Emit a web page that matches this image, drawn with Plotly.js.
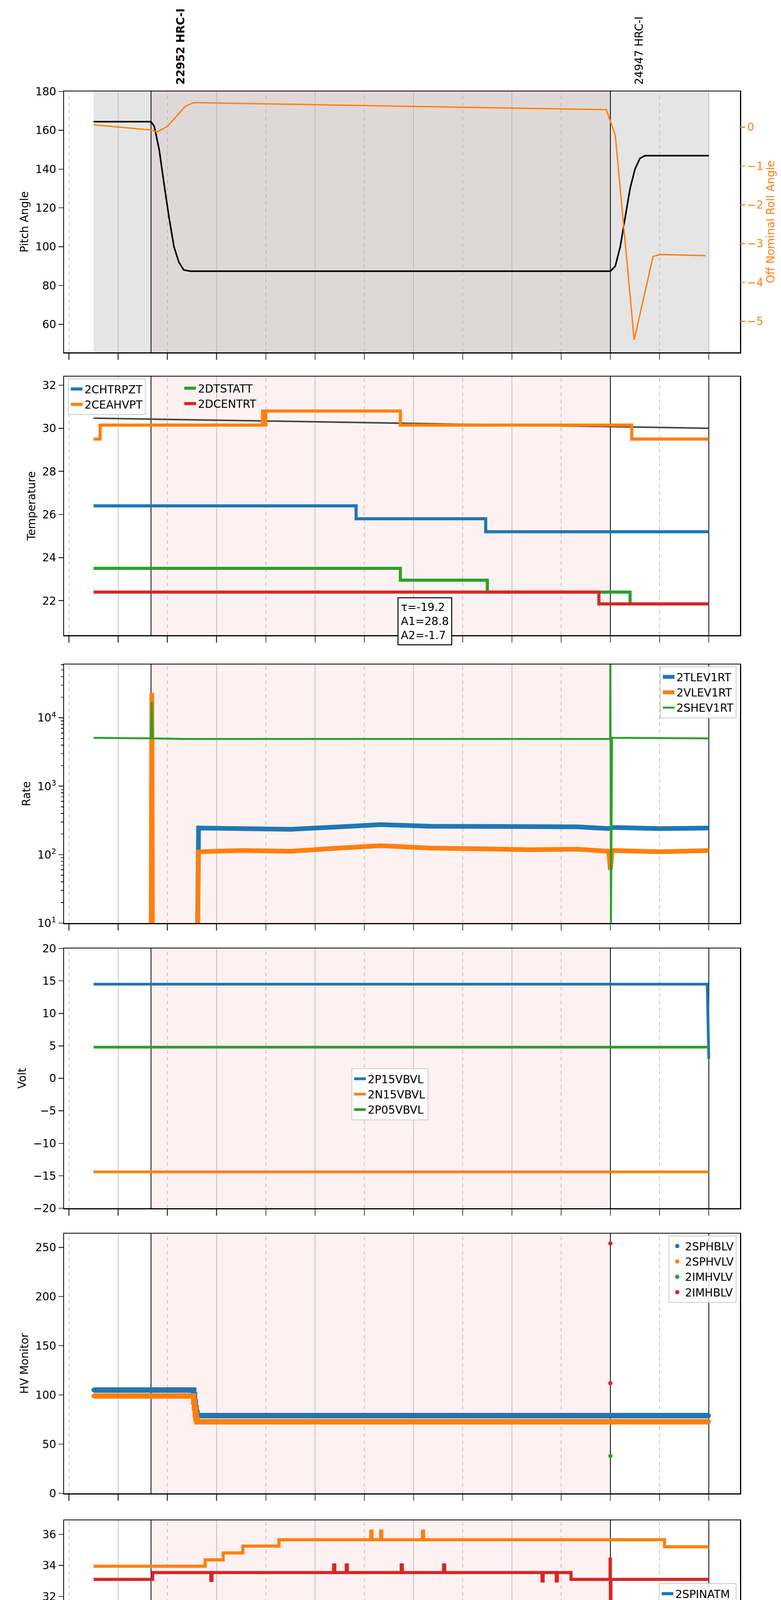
<!DOCTYPE html>
<html>
<head>
<meta charset="utf-8">
<script src="https://cdn.plot.ly/plotly-3.0.1.min.js"></script>
<style>body{margin:0;background:#fff}</style>
</head>
<body>
<div id="chart" style="width:2000px;height:5400px"></div>
<script>
var DAY = '2021-02-03 ';
function T(arr){ return arr.map(function(s){ return DAY + (s.length == 5 ? s + ':00' : s); }); }

/* panel 1: pitch / roll */
var pitchT = ['00:45','01:20','01:22','01:25','01:28','01:31','01:34','01:37','01:40','01:44','06:00','06:03','06:06','06:09','06:12','06:15','06:18','06:21','07:00'];
var pitchV = [164.4,164.4,162,150,132,115,100,92,88,87.4,87.4,90,100,115,130,140,145.5,146.9,146.9];
var rollT = ['00:45','01:00','01:19','01:24','01:30','01:41','01:46','05:57:30','06:03','06:14:30','06:26','06:30:30','06:58'];
var rollV = [0.06,0,-0.07,-0.12,0.02,0.54,0.63,0.45,-0.21,-5.48,-3.33,-3.28,-3.31];

/* panel 2: temperature */
var fitT = ['00:45','07:00'], fitV = [30.47,30.0];
var chtrpztT = ['00:45','03:25','04:44','07:00'], chtrpztV = [26.4,25.8,25.2,25.2];
var ceahvptT = ['00:45','00:49','02:28','02:29','02:30','03:52','06:13','07:00'];
var ceahvptV = [29.5,30.15,30.8,30.15,30.8,30.15,29.5,29.5];
var dtstattT = ['00:45','03:52','04:45','06:12','07:00'], dtstattV = [23.5,22.95,22.4,21.85,21.85];
var dcentrtT = ['00:45','05:53','07:00'], dcentrtV = [22.4,21.85,21.85];
var fitText = '\u03c4=-19.2<br>A1=28.8<br>A2=-1.7';

/* panel 3: rates */
var shevT = ['00:45','01:20','01:20:30','01:21','01:40','03:00','04:30','05:59:50','06:00','06:00:20','06:01','07:00'];
var shevV = [5100,5000,17000,5000,4900,4900,4900,4900,90000,8,5100,5000];
var vlevT = ['01:20','01:20:30','01:21','01:48','01:49','02:15','02:45','03:15','03:40','04:10','04:40','05:10','05:40','05:59','06:00','06:01','06:30','07:00'];
var vlevV = [1,23000,1,1,110,115,112,125,135,125,120,118,120,112,60,115,110,115];
var tlevT = ['01:48','01:49','02:15','02:45','03:15','03:40','04:10','04:40','05:10','05:40','05:59','06:01','06:30','07:00'];
var tlevV = [1,245,240,235,255,275,260,255,250,255,240,250,240,245];

/* panel 4: volts */
var p15T = ['00:45','06:59','07:00'], p15V = [14.5,14.5,3];
var n15T = ['00:45','07:00'], n15V = [-14.4,-14.4];
var p05T = ['00:45','07:00'], p05V = [4.8,4.8];

/* panel 5: HV monitor */
var sphblvT = ['00:45','01:46','01:46:30','01:47','01:47:30','01:48','07:00'], sphblvV = [105,100,93,87,82,79,79];
var sphvlvT = ['00:45','01:46','01:46:30','01:47','01:47:30','01:48','07:00'], sphvlvV = [99,93,87,80,75,72.7,72.7];
var imhvlvT = ['06:00'], imhvlvV = [38];
var imhblvT = ['06:00','06:00'], imhblvV = [254,112];

/* panel 6: detector temp */
var spinatmT = ['00:45','06:52','07:00'], spinatmV = [21.72,21.02,21.02];
var sphvatmT = ['00:45','01:53','02:04','02:16','02:38','03:34','03:34:40','03:40','03:40:40','04:05:30','04:06:10','06:33','07:00'];
var sphvatmV = [33.95,34.36,34.8,35.24,35.65,36.2,35.65,36.2,35.65,36.2,35.65,35.2,35.2];
var iminatmT = ['00:45','04:01','06:14','07:00'], iminatmV = [23.16,22.42,21.72,21.72];
var imhvatmT = ['00:45','01:21','01:56:30','01:57:10','03:11:20','03:12','03:19','03:19:40','03:52:30','03:53:10','04:18:20','04:19','05:18:20','05:19','05:27','05:27:40','05:36','05:59:50','06:00','06:00:20','07:00'];
var imhvatmV = [33.1,33.54,33.03,33.54,34.03,33.54,34.03,33.54,34.03,33.54,34.03,33.54,33.0,33.54,33.0,33.54,33.1,34.4,15,33.1,33.1];

/* panel 7: FEA temp */
var fhtrmztT = ['00:45','00:53:30','00:54','01:46','02:32:30','03:15:30','04:00','04:46','05:35:30','07:00'];
var fhtrmztV = [27.0,26.4,27.0,26.4,25.8,25.2,24.63,24.05,23.47,23.47];
var fradpytT = ['00:44','01:39','01:53','02:10:30','02:37','03:11','03:50','04:30','05:14','06:00','06:11','06:31','07:00'];
var fradpytV = [22.36,21.81,21.28,20.73,20.21,19.68,19.16,18.64,18.14,17.65,18.14,18.64,18.64];
var fepratmT = ['00:45','02:46:30','03:56','05:07','06:35:30','06:53:30','06:54','07:00'];
var fepratmV = [27.76,26.95,26.16,25.39,24.63,25.45,24.63,24.63];
var fe00atmT = ['00:45','02:02','02:02:30','02:04','02:11','02:11:30','02:24','02:24:30','02:25','02:25:30','02:37','02:54','02:54:30','03:09','03:17','03:17:30','03:27','03:27:30','03:40','03:44','03:44:30','04:08','04:08:30','04:13','04:46','05:06:40','05:07:20','05:20:30','05:21','05:22','05:33:30','05:34','05:36','05:36:30','05:56','05:56:40','05:57:20','05:59:50','06:00','06:00:20','06:30','06:30:30','07:00'];
var fe00atmV = [25.63,26.36,25.63,25.28,24.56,25.28,26.36,25.28,24.23,25.28,24.94,23.9,24.94,24.6,23.9,24.6,23.56,24.6,24.28,23.56,24.28,21.37,24.28,23.96,23.62,21.68,23.62,24.65,23.62,23.29,22.29,23.29,24.3,23.29,22.98,22.29,22.98,31,15,22.98,23.2,22.98,22.98];

/* axis ticks */
var tickTimes = ['00:30','01:00','01:30','02:00','02:30','03:00','03:30','04:00','04:30','05:00','05:30','06:00','06:30','07:00'];
var tickText = tickTimes.map(function(s){
  return s.slice(3) == '30' ? '<span style="font-size:18px">30</span>' : '<br>' + s.slice(0,2) + 'h';
});
var obsT = ['01:20','06:00'];
var obsLabelT = ['01:38','06:17:30'], obsLabels = ['<b>22952 HRC-I</b>','24947 HRC-I'];

var C = ['#1f77b4','#ff7f0e','#2ca02c','#d62728'];
var panelPix = [[234,902],[964,1626],[1701,2363],[2428,3093],[3158,3823],[3892,4553],[4622,5287]];
var H = 5400, MT = 234, MB = 113, PH = H - MT - MB;
function dom(p){ return [1 - (p[1]-MT)/PH, 1 - (p[0]-MT)/PH]; }

var data = [];
function step(i, t, v, name, color, w, leg, shape){
  data.push({x: T(t), y: v, name: name, type: 'scatter', mode: 'lines', line: {color: color, width: w, shape: shape || 'hv'},
    xaxis: i == 1 ? 'x' : 'x' + i, yaxis: i == 1 ? 'y' : 'y' + i, legend: leg, showlegend: !!leg});
}
data.push({x: T(pitchT), y: pitchV, mode: 'lines', line: {color: 'black', width: 4}, showlegend: false, xaxis: 'x', yaxis: 'y'});
data.push({x: T(rollT), y: rollV, mode: 'lines', line: {color: C[1], width: 3.5}, showlegend: false, xaxis: 'x', yaxis: 'y8'});

step(2, fitT, fitV, 'fit', '#444', 4, null, 'linear');
step(2, chtrpztT, chtrpztV, '2CHTRPZT', C[0], 8, 'legend2');
step(2, ceahvptT, ceahvptV, '2CEAHVPT', C[1], 8, 'legend2');
step(2, dtstattT, dtstattV, '2DTSTATT', C[2], 8, 'legend8');
step(2, dcentrtT, dcentrtV, '2DCENTRT', C[3], 8, 'legend8');

step(3, tlevT, tlevV, '2TLEV1RT', C[0], 12, 'legend3', 'linear');
step(3, vlevT, vlevV, '2VLEV1RT', C[1], 12, 'legend3', 'linear');
step(3, shevT, shevV, '2SHEV1RT', C[2], 5, 'legend3', 'linear');

step(4, p15T, p15V, '2P15VBVL', C[0], 7, 'legend4', 'linear');
step(4, n15T, n15V, '2N15VBVL', C[1], 7, 'legend4', 'linear');
step(4, p05T, p05V, '2P05VBVL', C[2], 7, 'legend4', 'linear');

[[sphblvT,sphblvV,'2SPHBLV',C[0],true],[sphvlvT,sphvlvV,'2SPHVLV',C[1],true],[imhvlvT,imhvlvV,'2IMHVLV',C[2],false],[imhblvT,imhblvV,'2IMHBLV',C[3],false]].forEach(function(s){
  if (s[4]) data.push({x: T(s[0]), y: s[1], mode: 'lines', line: {color: s[3], width: 14, shape: 'hv'}, showlegend: false, xaxis: 'x5', yaxis: 'y5'});
  data.push({x: T(s[0]), y: s[1], name: s[2], mode: 'markers', marker: {color: s[3], size: 11}, xaxis: 'x5', yaxis: 'y5', legend: 'legend5'});
});

step(6, spinatmT, spinatmV, '2SPINATM', C[0], 8, 'legend6');
step(6, sphvatmT, sphvatmV, '2SPHVATM', C[1], 8, 'legend6');
step(6, iminatmT, iminatmV, '2IMINATM', C[2], 8, 'legend6');
step(6, imhvatmT, imhvatmV, '2IMHVATM', C[3], 8, 'legend6');

step(7, fhtrmztT, fhtrmztV, '2FHTRMZT', C[0], 8, 'legend7');
step(7, fradpytT, fradpytV, '2FRADPYT', C[1], 8, 'legend7');
step(7, fepratmT, fepratmV, '2FEPRATM', C[2], 8, 'legend7');
step(7, fe00atmT, fe00atmV, '2FE00ATM', C[3], 6, 'legend7');

var FS = 28;
var F = {family: 'DejaVu Sans', size: FS, color: 'black'};
var layout = {width: 2000, height: H, margin: {l: 164, r: 105, t: MT, b: MB},
  paper_bgcolor: 'white', plot_bgcolor: 'white', font: F, shapes: [], annotations: []};

var yTitles = ['Pitch Angle','Temperature','Rate','Volt','HV Monitor','Detector Temp','FEA Temp'];
var yRanges = [[45.6,180],[20.4,32.4],[1,4.78],[-20,20],[0,264],[20.3,36.9],[17.2,29.4]];
var yDticks = [20,2,1,5,50,2,2];
for (var i = 1; i <= 7; i++) {
  var xa = i == 1 ? 'xaxis' : 'xaxis' + i, ya = i == 1 ? 'yaxis' : 'yaxis' + i;
  var xr = i == 1 ? 'x' : 'x' + i, yr = i == 1 ? 'y' : 'y' + i;
  layout[xa] = {type: 'date', range: [DAY + '00:27', DAY + '07:19'], tickvals: T(tickTimes), ticktext: tickText,
    showticklabels: i == 7, ticks: 'outside', ticklen: 16, tickwidth: 2.5, showgrid: false, zeroline: false,
    showline: true, mirror: true, linecolor: 'black', linewidth: 2.5, anchor: yr, tickfont: {size: 30}};
  if (i > 1) layout[xa].matches = 'x';
  layout[ya] = {domain: dom(panelPix[i-1]), anchor: xr, range: yRanges[i-1], dtick: yDticks[i-1],
    title: {text: yTitles[i-1], font: {size: FS}, standoff: 10}, ticks: 'outside', ticklen: 12, tickwidth: 2.5,
    showgrid: false, zeroline: false, showline: true, mirror: true, linecolor: 'black', linewidth: 2.5, tickfont: {size: FS}};
  if (i == 3) { layout[ya].type = 'log'; layout[ya].tickvals = [10,100,1000,10000];
    layout[ya].ticktext = ['10<sup>1</sup>','10<sup>2</sup>','10<sup>3</sup>','10<sup>4</sup>'];
    layout[ya].minor = {ticks: 'outside', ticklen: 6, dtick: 'D1'}; }
  if (i == 1) layout.shapes.push({type: 'rect', xref: xr, yref: yr + ' domain', x0: DAY + '00:45:00', x1: DAY + '07:00:00', y0: 0, y1: 1, fillcolor: '#e5e5e5', line: {width: 0}, layer: 'below'});
  layout.shapes.push({type: 'rect', xref: xr, yref: yr + ' domain', x0: T(obsT)[0], x1: T(obsT)[1], y0: 0, y1: 1,
    fillcolor: i == 1 ? 'rgba(170,60,60,0.08)' : 'rgba(230,60,60,0.07)', line: {width: 0}, layer: 'below'});
  tickTimes.forEach(function(s){
    var half = s.slice(3) == '30';
    var blackEnd = s == '07:00' && i > 1;
    layout.shapes.push({type: 'line', xref: xr, yref: yr + ' domain', x0: DAY + s + ':00', x1: DAY + s + ':00', y0: 0, y1: 1,
      line: {color: blackEnd ? 'black' : '#b0b0b0', width: blackEnd ? 2 : 1.5, dash: half ? 'dash' : 'solid'}, layer: 'below'});
  });
  T(obsT).forEach(function(t){
    layout.shapes.push({type: 'line', xref: xr, yref: yr + ' domain', x0: t, x1: t, y0: 0, y1: 1, line: {color: 'black', width: 2}, layer: 'below'});
  });
}
layout.yaxis8 = {overlaying: 'y', side: 'right', anchor: 'x', range: [-5.8,0.92], dtick: 1, color: C[1],
  title: {text: 'Off Nominal Roll Angle', font: {size: FS, color: C[1]}}, ticks: 'outside', ticklen: 12, tickwidth: 2.5,
  showgrid: false, zeroline: false, tickfont: {size: FS, color: C[1]}};

T(obsLabelT).forEach(function(t, k){
  layout.annotations.push({x: t, xref: 'x', y: dom(panelPix[0])[1] + 0.003, yref: 'paper', yanchor: 'bottom', xanchor: 'center',
    text: obsLabels[k], textangle: -90, showarrow: false, font: {size: FS}});
});
layout.annotations.push({x: DAY + '04:07:00', xref: 'x2', y: 21.05, yref: 'y2', text: fitText, showarrow: false, align: 'left',
  bordercolor: 'black', borderwidth: 2.5, bgcolor: 'white', borderpad: 6, font: {size: FS}});

function leg(x, y, xa, ya){ return {x: x, y: y, xanchor: xa, yanchor: ya, xref: 'paper', yref: 'paper', bgcolor: 'rgba(255,255,255,0.85)',
  bordercolor: '#cccccc', borderwidth: 2, font: {size: FS}, tracegroupgap: 6}; }
var d2 = dom(panelPix[1]), d3 = dom(panelPix[2]), d5 = dom(panelPix[4]), d7 = dom(panelPix[6]);
layout.legend2 = leg(0.006, d2[1] - 0.001, 'left', 'top');
layout.legend8 = leg(0.175, d2[1] - 0.001, 'left', 'top'); layout.legend8.borderwidth = 0; layout.legend8.bgcolor = 'rgba(0,0,0,0)';
layout.legend3 = leg(0.995, d3[1] - 0.001, 'right', 'top');
layout.legend4 = leg(0.425, 1 - (2735 - MT)/PH, 'left', 'top');
layout.legend5 = leg(0.995, d5[1] - 0.001, 'right', 'top');
layout.legend6 = leg(0.995, 1 - (4053 - MT)/PH, 'right', 'top');
layout.legend7 = leg(0.995, d7[1] - 0.001, 'right', 'top');
layout.annotations.push({x: 0.5, xref: 'paper', y: 0, yref: 'paper', yshift: -78, yanchor: 'top', text: '2021-02-03 (034)', showarrow: false, font: {size: 32}});

Plotly.newPlot('chart', data, layout, {staticPlot: true});
</script>
</body>
</html>
